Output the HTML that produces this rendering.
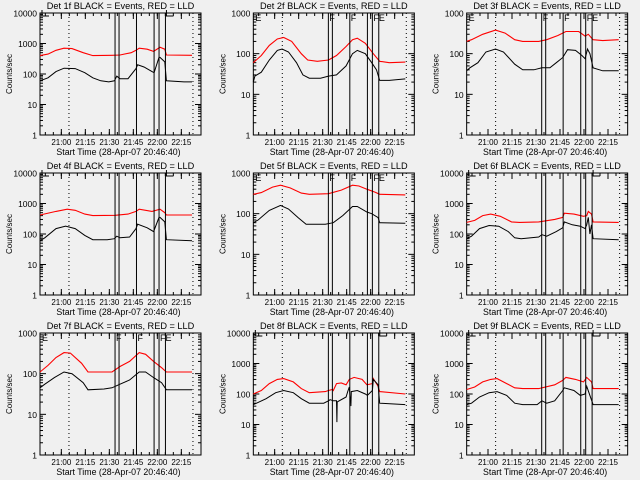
<!DOCTYPE html>
<html><head><meta charset="utf-8"><style>
html,body{margin:0;padding:0;background:#f0f0f0;}
svg{display:block;font-family:"Liberation Sans",sans-serif;}
</style></head><body>
<svg id="chart" width="640" height="480" viewBox="0 0 640 480" xmlns="http://www.w3.org/2000/svg">
<rect width="640" height="480" fill="#f0f0f0"/>
</svg>
<script>
// ---- data ----
const detNames = ['1f','2f','3f','4f','5f','6f','7f','8f','9f'];
const yMaxes = [10000,1000,1000,10000,1000,10000,1000,10000,10000];
const xTickLabels = ['21:00','21:15','21:30','21:45','22:00','22:15'];
const eventMinutes = [46.9,49.4,60.3,71.3,74.4,78.4];
const dottedMinutes = [18.1,95.6];
const startLabel = 'Start Time (28-Apr-07 20:46:40)';

const det1Black = [[0,60],[5,75],[10,120],[15,155],[22,150],[28,110],[33,75],[38,60],[43,55],[46.5,60],[48,85],[50,70],[55,70],[60,150],[61,200],[65,170],[70,120],[71.3,110],[74.4,350],[75,350],[78,250],[79,60],[90,55],[95,55]];
const det1Red = [[0,400],[5,450],[10,600],[15,700],[20,680],[27,500],[33,400],[45,410],[50,420],[57,500],[60,600],[62,700],[67,650],[71,550],[75,750],[78,650],[79,420],[95,410]];
const det2Black = [[0,20],[1,28],[5,35],[10,70],[15,120],[18,130],[22,110],[27,60],[31,30],[35,25],[42,25],[47,28],[52,30],[58,50],[62,100],[65,120],[70,100],[74,60],[77,40],[79,22],[85,22],[95,24]];
const det2Red = [[0,60],[5,90],[10,160],[15,230],[19,250],[24,200],[30,100],[34,70],[40,65],[47,70],[52,90],[58,150],[62,220],[65,240],[70,180],[75,100],[79,65],[85,60],[95,62]];
const det3Black = [[0,38],[2,45],[7,60],[12,110],[18,130],[23,110],[30,55],[35,40],[42,40],[47,45],[52,45],[56,60],[60,80],[63,125],[68,120],[72,90],[74,75],[75.5,130],[77,100],[79,45],[85,38],[95,38]];
const det3Red = [[0,200],[3,220],[10,300],[18,380],[24,320],[30,220],[35,200],[45,200],[50,220],[57,280],[62,350],[70,350],[74,270],[76,300],[79,220],[85,210],[95,220]];
const det4Black = [[0,60],[3,75],[10,150],[16,180],[22,150],[28,90],[33,65],[42,65],[46.5,70],[48,85],[50,75],[56,80],[60,150],[61,210],[67,160],[71,120],[74.4,350],[75,350],[78,250],[79,65],[95,60]];
const det4Red = [[0,420],[10,550],[17,650],[22,600],[28,450],[33,400],[47,410],[55,450],[60,550],[62,650],[70,550],[75,650],[78,500],[79,420],[95,420]];
const det5Black = [[0,60],[3,70],[10,120],[17,160],[22,130],[28,80],[33,55],[45,55],[50,60],[56,90],[62,150],[65,150],[71,110],[74,100],[78,80],[79,60],[95,58]];
const det5Red = [[0,300],[5,330],[12,450],[17,500],[23,430],[30,320],[35,300],[47,310],[55,380],[62,500],[66,480],[71,400],[76,340],[79,300],[95,290]];
const det6Black = [[0,70],[3,85],[8,150],[14,190],[20,180],[26,120],[30,75],[34,70],[45,80],[47,95],[50,85],[56,120],[60,160],[61,250],[66,200],[71,180],[74,150],[75,200],[76,350],[77,100],[78,200],[79,70],[95,65]];
const det6Red = [[0,240],[5,280],[10,400],[15,450],[21,380],[28,250],[33,240],[45,250],[55,300],[60,350],[61,480],[67,450],[73,380],[75,400],[76,550],[78,450],[79,250],[95,240]];
const det7Black = [[0,45],[3,55],[9,80],[15,110],[20,100],[27,60],[30,40],[40,42],[45,45],[50,55],[56,70],[62,110],[66,110],[71,80],[76,60],[79,40],[95,40]];
const det7Red = [[0,110],[5,160],[10,250],[15,330],[19,320],[26,180],[30,110],[45,110],[50,150],[56,200],[62,330],[66,300],[71,200],[76,140],[79,110],[95,110]];
const det8Black = [[0,45],[2,50],[8,70],[14,110],[19,130],[25,110],[30,70],[35,50],[44,50],[47,60],[48,65],[50,60],[52,60],[52.2,12],[52.4,55],[58,80],[59,120],[60,170],[61,40],[61.2,120],[65,130],[70,100],[71.3,90],[74.4,130],[75,300],[78,200],[79,50],[95,45]];
const det8Red = [[0,100],[5,130],[10,220],[15,300],[19,320],[25,250],[30,150],[35,110],[45,120],[47,130],[49.4,140],[50,130],[52,220],[55,230],[58,200],[60,300],[63,350],[68,300],[71,200],[74.4,220],[75,320],[78,180],[79,120],[95,100]];
const det9Black = [[0,45],[3,50],[8,80],[14,110],[19,120],[25,90],[30,50],[35,45],[44,45],[47,60],[50,50],[55,60],[60,130],[61,160],[67,130],[71,90],[74,100],[75,180],[77,90],[79,45],[95,45]];
const det9Red = [[0,140],[5,170],[10,250],[15,300],[19,320],[25,220],[30,160],[35,150],[45,150],[55,200],[60,280],[62,350],[68,300],[73,250],[75,350],[78,250],[79,150],[95,150]];

const blackSeries = [det1Black,det2Black,det3Black,det4Black,det5Black,det6Black,det7Black,det8Black,det9Black];
const redSeries = [det1Red,det2Red,det3Red,det4Red,det5Red,det6Red,det7Red,det8Red,det9Red];

// ---- drawing ----
const NS = 'http://www.w3.org/2000/svg';
const svg = document.getElementById('chart');
const PX_PER_MIN = 1.6;
function mk(tag, attrs, parent){ const e=document.createElementNS(NS,tag); for(const k in attrs) e.setAttribute(k,attrs[k]); parent.appendChild(e); return e; }
function labelMinutes(s){ const p=s.split(':'); return (+p[0])*60+(+p[1]) - (20*60+46+40/60); }

for(let i=0;i<9;i++){
  const cx = (i%3)*213.33, cy = Math.floor(i/3)*160;
  const L = cx+40, R = cx+201, T = cy+13, B = cy+135;
  const ymax = yMaxes[i], nDec = Math.log10(ymax);
  const xS = t => L + t*PX_PER_MIN;
  const yS = v => B - Math.log10(Math.max(v,1))/nDec*(B-T);
  const g = mk('g',{},svg);
  
  

  const title = mk('text',{x:(L+R)/2,y:cy+9,'font-size':'9.2','text-anchor':'middle',fill:'#000'},g);
  
  
  title.textContent = 'Det '+detNames[i]+' BLACK = Events, RED = LLD';

  const box = mk('rect',{x:L,y:T,width:R-L,height:B-T,fill:'none',stroke:'#000','stroke-width':1},g);
  
  

  for(let d=0; d<=nDec; d++){
    const v = Math.pow(10,d), y = yS(v);
    mk('line',{x1:L,x2:L+6,y1:y,y2:y,stroke:'#000'},g);
    mk('line',{x1:R,x2:R-6,y1:y,y2:y,stroke:'#000'},g);
    const tl = mk('text',{x:L-3,y:y+3.5,'font-size':'8.5','text-anchor':'end',fill:'#000'},g);
    
    
    tl.textContent = String(v);
    if(d<nDec) for(let m=2;m<10;m++){ const ym=yS(v*m);
      mk('line',{x1:L,x2:L+3,y1:ym,y2:ym,stroke:'#000'},g);
      mk('line',{x1:R,x2:R-3,y1:ym,y2:ym,stroke:'#000'},g); }
  }
  const yt = mk('text',{x:0,y:0,'font-size':'8','text-anchor':'middle',fill:'#000',transform:'translate('+(cx+12)+','+((T+B)/2)+') rotate(-90)'},g);
  
  
  yt.textContent = 'Counts/sec';

  for(let m=5; m*PX_PER_MIN < R-L; m+=5){
    const tm = m - 6.667; if(tm<=0) continue;
    const x = xS(tm);
    mk('line',{x1:x,x2:x,y1:B,y2:B-3,stroke:'#000'},g);
    mk('line',{x1:x,x2:x,y1:T,y2:T+3,stroke:'#000'},g);
  }
  xTickLabels.forEach(s=>{
    const x = xS(labelMinutes(s));
    mk('line',{x1:x,x2:x,y1:B,y2:B-6,stroke:'#000'},g);
    mk('line',{x1:x,x2:x,y1:T,y2:T+6,stroke:'#000'},g);
    const tl = mk('text',{x:x,y:B+10,'font-size':'8','text-anchor':'middle',fill:'#000'},g);
    
    
    tl.textContent = s;
  });
  const xt = mk('text',{x:(L+R)/2-2,y:B+20,'font-size':'8.8','text-anchor':'middle',fill:'#000'},g);
  
  
  xt.textContent = startLabel;

  dottedMinutes.forEach(t=>{
    const dl = mk('line',{x1:xS(t),x2:xS(t),y1:T,y2:B,stroke:'#000','stroke-dasharray':'1,3'},g);
    
    
  });
  const toPts = arr => arr.map(p=>xS(p[0]).toFixed(1)+','+yS(p[1]).toFixed(1)).join(' ');
  const red = mk('polyline',{points:toPts(redSeries[i]),fill:'none',stroke:'#ff0000','stroke-width':1.1},g);
  
  
  const blk = mk('polyline',{points:toPts(blackSeries[i]),fill:'none',stroke:'#000','stroke-width':1},g);
  
  
  eventMinutes.forEach((t,k)=>{
    const el = mk('line',{x1:xS(t),x2:xS(t),y1:T,y2:B,stroke:'#000','stroke-width':1},g);
    
    
  });
  if(ymax===1000){
    [['E',L+2],['F',xS(eventMinutes[0])+1],['F',xS(eventMinutes[2])+1],['FE',xS(eventMinutes[4])+1]].forEach(a=>{
      const m = mk('text',{x:a[1],y:T+8,'font-size':'9',fill:'#000'},g);
      
      
      m.textContent = a[0];
    });
  } else {
    [L+2, xS(eventMinutes[5])+1].forEach(x=>{
      const m = mk('path',{d:'M'+x+','+(T-3)+' V'+(T+3)+' H'+(x+7),fill:'none',stroke:'#000'},g);
      
      
    });
  }
}
</script>
</body></html>
